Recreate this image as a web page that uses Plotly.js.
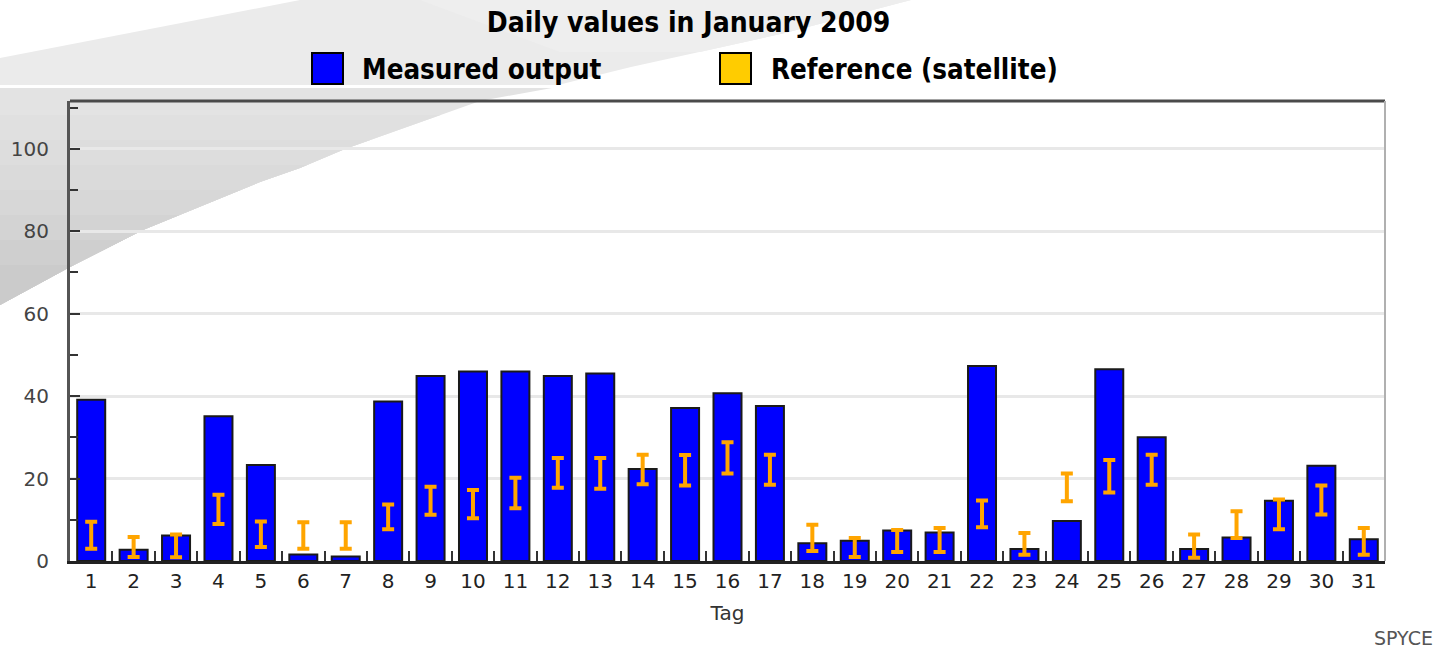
<!DOCTYPE html>
<html>
<head>
<meta charset="utf-8">
<script src="https://cdn.plot.ly/plotly-3.0.1.min.js"></script>
<style>
html,body{margin:0;padding:0;background:#fff;}
#chart{width:1441px;height:651px;}
</style>
</head>
<body>
<div id="chart"></div>
<script>
// ---- data ----
const days = ["1","2","3","4","5","6","7","8","9","10","11","12","13","14","15","16","17","18","19","20","21","22","23","24","25","26","27","28","29","30","31"];
const measured = [39.1, 2.7, 6.2, 35.1, 23.3, 1.6, 1.1, 38.7, 44.9, 46.0, 46.0, 44.9, 45.5, 22.3, 37.1, 40.7, 37.6, 4.3, 4.9, 7.4, 6.9, 47.3, 2.9, 9.7, 46.5, 30.0, 2.9, 5.7, 14.6, 23.1, 5.3];
const refLow  = [3.0, 1.0, 0.9, 9.0, 3.4, 3.0, 3.0, 7.7, 11.2, 10.4, 12.8, 17.8, 17.5, 18.6, 18.3, 21.2, 18.5, 2.4, 1.0, 2.2, 2.2, 8.2, 1.5, 14.5, 16.6, 18.5, 0.8, 5.6, 7.7, 11.3, 1.5];
const refHigh = [9.5, 5.8, 6.4, 16.1, 9.6, 9.4, 9.4, 13.7, 18.0, 17.2, 20.2, 25.0, 25.0, 25.8, 25.7, 28.8, 25.8, 8.8, 5.6, 7.5, 8.0, 14.7, 6.8, 21.2, 24.5, 25.8, 6.4, 12.1, 14.9, 18.3, 8.0];
const titleText = "Daily values in January 2009";
const seriesNames = ["Measured output", "Reference (satellite)"];
const xTitle = "Tag";
const brand = "SPYCE";

// ---- geometry helpers (pixel -> paper) ----
const W = 1441, H = 651;
const M = {l: 70, r: 56, t: 101, b: 90};
const PW = W - M.l - M.r, PH = H - M.t - M.b;
const px = x => (x - M.l) / PW;
const py = y => (H - M.b - y) / PH;
const path = pts => 'M ' + pts.map(p => px(p[0]).toFixed(5) + ',' + py(p[1]).toFixed(5)).join(' L ') + ' Z';

const refMid = refLow.map((lo, i) => (lo + refHigh[i]) / 2);
const refHalf = refLow.map((lo, i) => (refHigh[i] - lo) / 2);

const traces = [
  {
    type: 'bar', x: days, y: measured, name: seriesNames[0],
    marker: {color: '#0000ff', line: {color: '#1a1a1a', width: 2}},
    hoverinfo: 'x+y'
  },
  {
    type: 'scatter', mode: 'markers', x: days, y: refMid, name: seriesNames[1],
    marker: {size: 1, color: 'rgba(0,0,0,0)'},
    error_y: {type: 'data', symmetric: true, array: refHalf, color: '#ffa500', thickness: 4, width: 6}
  }
];

// ---- decorative background swoosh ----
const lowerEdge = [[552,88],[480,101],[345,149],[300,168],[260,182],[143,230],[70,267],[0,305]];
function edgeX(y) {
  for (let i = 0; i < lowerEdge.length - 1; i++) {
    const a = lowerEdge[i], b = lowerEdge[i + 1];
    if (y >= a[1] && y <= b[1]) return a[0] + (b[0] - a[0]) * (y - a[1]) / (b[1] - a[1]);
  }
  return 0;
}
function belowPoly(y) {
  const pts = [[0, y], [edgeX(y), y]];
  lowerEdge.forEach(p => { if (p[1] > y) pts.push(p); });
  return pts;
}
const bandTops = [88, 115, 140, 165, 190, 215, 240, 265];
const bandCols = ['#e3e3e3', '#e0e0e0', '#dddddd', '#dadada', '#d7d7d7', '#d3d3d3', '#cfcfcf', '#cbcbcb'];

const bgShapes = [
  {type: 'path', path: path([[0,58],[300,0],[911,0],[785,33],[631,67],[558,85],[0,85]]), fillcolor: '#ebebeb'},
  {type: 'path', path: path([[420,0],[911,0],[785,33],[700,52],[560,52]]), fillcolor: '#eeeeee'}
].concat(bandTops.map((y, i) => ({type: 'path', path: path(belowPoly(y)), fillcolor: bandCols[i]})))
 .map(s => Object.assign(s, {xref: 'paper', yref: 'paper', layer: 'below', line: {width: 0}}));

const frameShapes = [
  {type: 'line', xref: 'paper', yref: 'paper', x0: 0, x1: 1, y0: 1, y1: 1, line: {color: '#4a4a4a', width: 3}},
  {type: 'line', xref: 'paper', yref: 'paper', x0: 1, x1: 1, y0: 0, y1: 1, line: {color: '#b0b0b0', width: 2}},
  {type: 'rect', xref: 'paper', yref: 'paper', x0: px(312), x1: px(343), y0: py(84), y1: py(53), fillcolor: '#0000ff', line: {color: '#000', width: 2}},
  {type: 'rect', xref: 'paper', yref: 'paper', x0: px(720), x1: px(751), y0: py(84), y1: py(53), fillcolor: '#ffcc00', line: {color: '#000', width: 2}}
];

const headFont = {family: '"DejaVu Sans Condensed", "DejaVu Sans", sans-serif', size: 27.5, color: '#000', weight: 'bold'};

const layout = {
  width: W, height: H,
  margin: M,
  paper_bgcolor: '#ffffff',
  plot_bgcolor: 'rgba(0,0,0,0)',
  showlegend: false,
  bargap: 0.34,
  title: {text: '<b>' + titleText + '</b>', font: Object.assign({}, headFont, {size: 28}), xref: 'paper', x: px(688.5), xanchor: 'center', yref: 'container', y: 1 - 22 / H, yanchor: 'middle'},
  xaxis: {
    type: 'category', range: [-0.5, 30.5],
    showline: true, linecolor: '#222', linewidth: 3,
    ticks: 'inside', tickson: 'boundaries', ticklen: 10, tickwidth: 2, tickcolor: '#333',
    showgrid: false, zeroline: false,
    tickfont: {family: '"DejaVu Sans", sans-serif', size: 20, color: '#222'},
    title: {text: xTitle, font: {family: '"DejaVu Sans", sans-serif', size: 20, color: '#333'}, standoff: 14}
  },
  yaxis: {
    range: [0, 111.6], dtick: 20, tick0: 0,
    showline: true, linecolor: '#555', linewidth: 3,
    ticks: 'inside', ticklen: 10, tickwidth: 2, tickcolor: '#333',
    showgrid: true, gridcolor: '#e8e8e8', gridwidth: 3,
    zeroline: false,
    minor: {dtick: 10, ticks: 'inside', ticklen: 8, tickwidth: 2, tickcolor: '#333', showgrid: false},
    ticklabelstandoff: 14,
    tickfont: {family: '"DejaVu Sans", sans-serif', size: 20, color: '#444'}
  },
  shapes: bgShapes.concat(frameShapes),
  annotations: [
    {xref: 'paper', yref: 'paper', x: px(360), y: py(69), xanchor: 'left', yanchor: 'middle', text: '<b>' + seriesNames[0] + '</b>', showarrow: false, font: headFont},
    {xref: 'paper', yref: 'paper', x: px(769), y: py(69), xanchor: 'left', yanchor: 'middle', text: '<b>' + seriesNames[1] + '</b>', showarrow: false, font: headFont},
    {xref: 'paper', yref: 'paper', x: px(1435), y: py(638), xanchor: 'right', yanchor: 'middle', text: brand, showarrow: false, font: {family: '"DejaVu Sans", sans-serif', size: 19, color: '#555'}}
  ]
};

Plotly.newPlot('chart', traces, layout, {displayModeBar: false, staticPlot: true});
</script>
</body>
</html>
